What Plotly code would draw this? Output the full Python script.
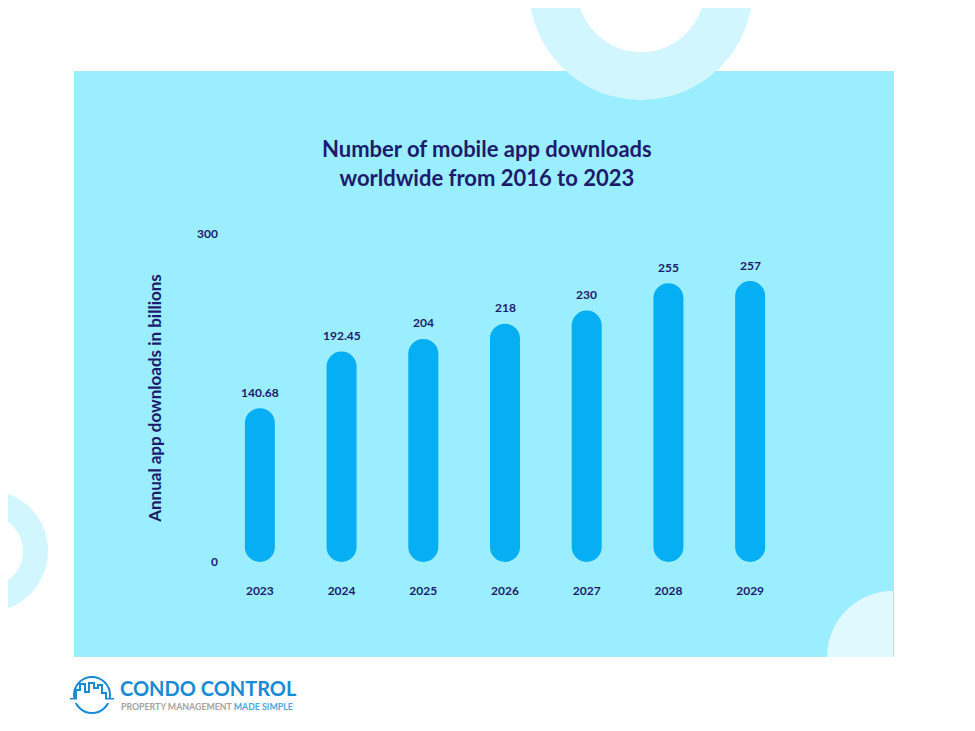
import numpy as np
import plotly.graph_objects as go

# chart data
years = ["2023", "2024", "2025", "2026", "2027", "2028", "2029"]
downloads = [140.68, 192.45, 204, 218, 230, 255, 257]
y_ticks = [0, 300]

# the page body adds an 8px margin, so the figure is 8px smaller than the window
OFF = 8
W, H = 975 - OFF, 731 - OFF
NAVY = "#1d1b6e"
BAR = "#06aef4"
PANEL = "#9beeff"
RING = "#d2f6fe"
FONT = "Lato"

# plot area in page pixels
X_LEFT, X_RIGHT = 219, 791
Y_BOTTOM, Y_TOP = 562, 234
Y_MAX = 300
BAR_PX = 30


def px(x):
    return (x - OFF) / W


def py(y):
    return 1 - (y - OFF) / H


def circle(cx, cy, r, color):
    return dict(type="circle", xref="paper", yref="paper",
                x0=px(cx - r), x1=px(cx + r), y0=py(cy + r), y1=py(cy - r),
                fillcolor=color, line_width=0, layer="below")


# quarter circle in the lower right corner of the panel
t = np.linspace(np.pi, 1.5 * np.pi, 40)
qx = 893 + 66 * np.cos(t)
qy = 657 + 66 * np.sin(t)
qpath = "M {},{} ".format(px(893), py(657))
qpath += " ".join("L {:.5f},{:.5f}".format(px(a), py(b)) for a, b in zip(qx, qy)) + " Z"

shapes = [
    dict(type="rect", xref="paper", yref="paper", x0=px(74), x1=px(894),
         y0=py(657), y1=py(71), fillcolor=PANEL, line_width=0, layer="below"),
    circle(641, -12, 112, RING),
    circle(641, -12, 64, "white"),
    circle(-13, 551, 61, RING),
    circle(-13, 551, 36, "white"),
    dict(type="path", xref="paper", yref="paper", path=qpath,
         fillcolor="#e0f9ff", line_width=0, layer="below"),
]

# logo icon: ring + small skyline
shapes.append(dict(type="circle", xref="paper", yref="paper",
                   x0=px(74), x1=px(110), y0=py(713), y1=py(677),
                   line=dict(color="#1a8ad4", width=2), layer="above"))
sky = [(70, 699), (76, 699), (76, 690), (80, 690), (80, 684), (85, 684), (85, 692),
       (89, 692), (89, 683), (94, 683), (94, 688), (98, 688), (98, 685), (102, 685),
       (102, 693), (106, 693), (106, 699), (114, 699)]
skypath = "M " + " L ".join("{:.5f},{:.5f}".format(px(a), py(b)) for a, b in sky)
shapes.append(dict(type="path", xref="paper", yref="paper", path=skypath,
                   line=dict(color="#1a8ad4", width=2), layer="above"))
shapes.append(dict(type="rect", xref="paper", yref="paper", x0=px(70), x1=px(114),
                   y0=py(703), y1=py(699.5), fillcolor="white", line_width=0))

# pill shaped bars: with an explicit base plotly rounds both ends
fig = go.Figure()
fig.add_trace(go.Bar(x=years, y=downloads, base=0,
                     marker=dict(color=BAR, cornerradius=BAR_PX // 2, line_width=0),
                     hovertemplate="%{x}: %{y}<extra></extra>"))

annotations = []
for i, v in enumerate(downloads):
    annotations.append(dict(x=i, y=v, xref="x", yref="y", text="{:g}".format(v),
                            showarrow=False, yshift=16, yanchor="middle",
                            font=dict(family=FONT, size=12, color=NAVY, weight=700)))

annotations.append(dict(x=px(487), y=py(163), xref="paper", yref="paper",
                        xanchor="center", yanchor="middle",
                        text="Number of mobile app downloads<br>worldwide from 2016 to 2023",
                        showarrow=False, align="center",
                        font=dict(family=FONT, size=22, color=NAVY, weight=700)))
annotations.append(dict(x=px(118), y=py(688), xref="paper", yref="paper",
                        xanchor="left", yanchor="middle", text="CONDO CONTROL",
                        showarrow=False,
                        font=dict(family=FONT, size=20, color="#1a8ad4", weight=700)))
annotations.append(dict(x=px(119), y=py(706), xref="paper", yref="paper",
                        xanchor="left", yanchor="middle",
                        text="PROPERTY MANAGEMENT <span style='color:#4aa8e0'>MADE SIMPLE</span>",
                        showarrow=False,
                        font=dict(family=FONT, size=8.8, color="#a3a3a3", weight=700)))

fig.update_layout(
    template="none",
    width=W, height=H,
    margin=dict(l=0, r=0, t=0, b=0, pad=0),
    paper_bgcolor="white", plot_bgcolor="rgba(0,0,0,0)",
    barmode="overlay", bargap=1 - BAR_PX / ((X_RIGHT - X_LEFT) / len(years)),
    showlegend=False,
    shapes=shapes, annotations=annotations,
    xaxis=dict(domain=[px(X_LEFT), px(X_RIGHT)], type="category", range=[-0.5, 6.5],
               showgrid=False, showline=False, zeroline=False, ticks="",
               automargin=False, ticklabelstandoff=20,
               tickfont=dict(family=FONT, size=12, color=NAVY, weight=700)),
    yaxis=dict(domain=[py(Y_BOTTOM), py(Y_TOP)], range=[0, Y_MAX], tickvals=y_ticks,
               showgrid=False, showline=False, zeroline=False, ticks="",
               automargin=False, ticklabelstandoff=0,
               tickfont=dict(family=FONT, size=12, color=NAVY, weight=700),
               title=dict(text="Annual app downloads in billions", standoff=31,
                          font=dict(family=FONT, size=17, color=NAVY, weight=700))),
)

fig.write_html("out.html")
